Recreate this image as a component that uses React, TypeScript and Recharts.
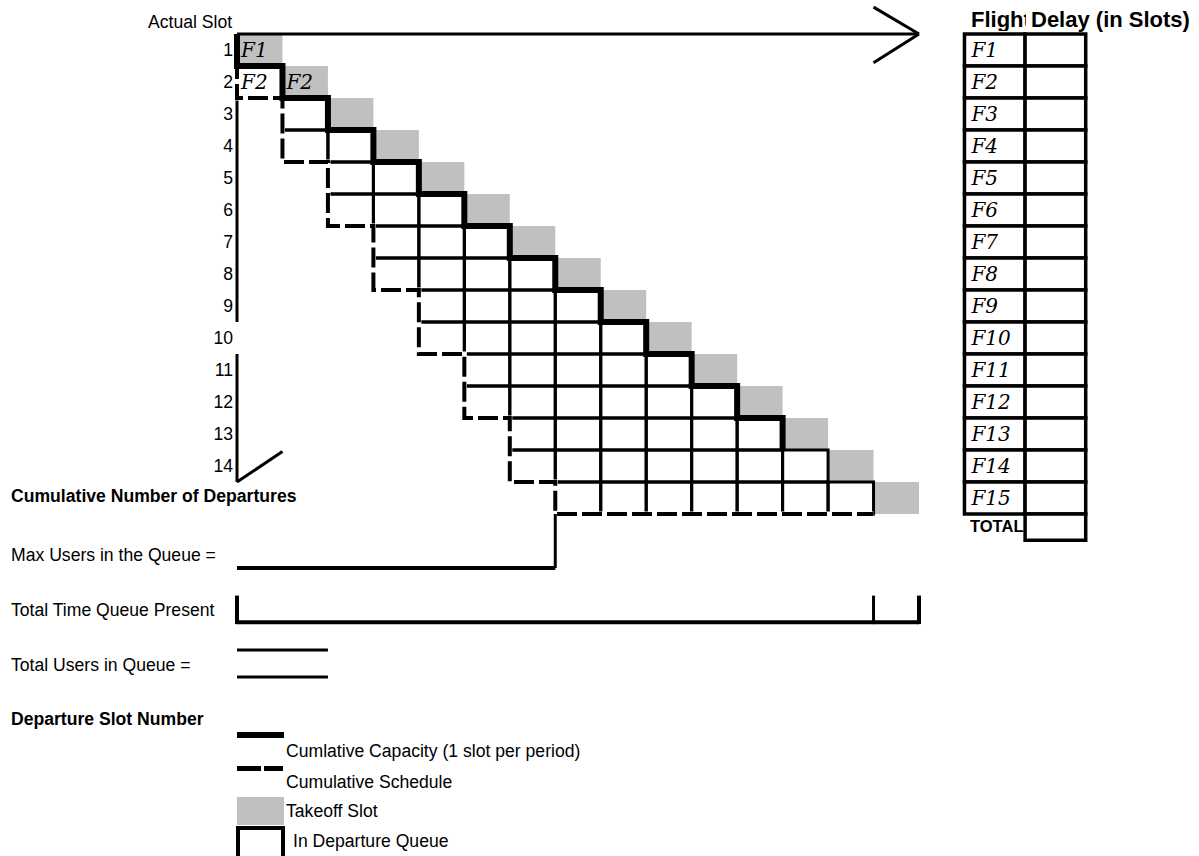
import React from "react";
import {
  ComposedChart,
  Line,
  XAxis,
  YAxis,
  ReferenceArea,
  ReferenceLine,
  Label,
} from "recharts";

// departure slots (x) and cumulative counts (y, drawn downwards)
const slots = [0, 1, 2, 3, 4, 5, 6, 7, 8, 9, 10, 11, 12, 13, 14];
const capacityCum = [1, 2, 3, 4, 5, 6, 7, 8, 9, 10, 11, 12, 13, 14, 15];
const scheduleSlots = [0, 1, 2, 3, 4, 5, 6, 7];
const scheduleCum = [2, 4, 6, 8, 10, 12, 14, 15];

const flights = [
  "F1", "F2", "F3", "F4", "F5", "F6", "F7", "F8",
  "F9", "F10", "F11", "F12", "F13", "F14", "F15",
];
const flightSchedSlot = [0, 0, 1, 1, 2, 2, 3, 3, 4, 4, 5, 5, 6, 6, 7];
const flightTakeoffSlot = [0, 1, 2, 3, 4, 5, 6, 7, 8, 9, 10, 11, 12, 13, 14];
const slotLabels = ["1", "2", "3", "4", "5", "6", "7", "8", "9", "10", "11", "12", "13", "14"];
const cellNotes = [
  { flight: 1, slot: 0, text: "F1" },
  { flight: 2, slot: 0, text: "F2" },
  { flight: 2, slot: 1, text: "F2" },
];
// the heavy capacity staircase stops after this slot
const thickCapacityUntil = 12;

const W = 1199;
const H = 856;
const SANS = "'Liberation Sans', Arial, sans-serif";
const SCRIPT = "'DejaVu Serif', serif";

const capacityData = [
  { slot: 0, cum: 0 },
  ...slots
    .slice(0, thickCapacityUntil + 1)
    .map((s) => ({ slot: s, cum: capacityCum[s] })),
];
const queueClears = capacityCum.indexOf(scheduleCum[scheduleCum.length - 1]);
const scheduleData = [
  { slot: 0, cum: 0 },
  ...scheduleSlots.map((s, i) => ({ slot: s, cum: scheduleCum[i] })),
  { slot: queueClears, cum: scheduleCum[scheduleCum.length - 1] },
];
const lastSched = scheduleSlots[scheduleSlots.length - 1];
const total = flights.length;

// table columns (in slot units, to the right of the plot)
const tabL = 16;
const tabM = 16 + 4 / 3;
const tabR = 16 + 8 / 3;

const range = (a: number, b: number) => {
  const out: number[] = [];
  for (let i = a; i < b; i++) out.push(i);
  return out;
};

function T({
  x,
  yc,
  size = 17.6,
  bold = false,
  children,
}: {
  x: number;
  yc: number;
  size?: number;
  bold?: boolean;
  children: React.ReactNode;
}) {
  return (
    <div
      style={{
        position: "absolute",
        left: x,
        top: yc - size * 0.49,
        fontSize: size,
        lineHeight: 1,
        fontFamily: SANS,
        fontWeight: bold ? 700 : 400,
        whiteSpace: "nowrap",
        color: "#000",
      }}
    >
      {children}
    </div>
  );
}

const labelStyle = {
  fontFamily: SCRIPT,
  fontStyle: "italic",
  fontSize: 20,
  fill: "#000",
};

export default function App() {
  return (
    <div
      style={{
        position: "absolute",
        left: 0,
        top: 0,
        width: W,
        height: H,
        overflow: "hidden",
        background: "#fff",
      }}
    >
      <ComposedChart
        width={W}
        height={H}
        margin={{ top: 34, right: 280, bottom: 342, left: 177 }}
      >
        <XAxis type="number" dataKey="slot" domain={[0, 15]} hide />
        <YAxis
          type="number"
          domain={[0, 15]}
          reversed
          width={60}
          ticks={slotLabels.map((_, i) => i + 0.5)}
          tickFormatter={(v: number) => slotLabels[Math.floor(v)]}
          axisLine={false}
          tickLine={false}
          tickSize={0}
          tickMargin={4}
          interval={0}
          tick={{ fill: "#000", fontSize: 17.6, fontFamily: SANS }}
        />

        {/* takeoff slots */}
        {flights.map((f, i) => (
          <ReferenceArea
            key={"t" + f}
            x1={flightTakeoffSlot[i]}
            x2={flightTakeoffSlot[i] + 1}
            y1={i}
            y2={i + 1}
            fill="#c0c0c0"
            fillOpacity={1}
            stroke="none"
            ifOverflow="visible"
          />
        ))}

        {/* slots spent in the departure queue */}
        {flights.flatMap((f, i) =>
          range(flightSchedSlot[i], flightTakeoffSlot[i]).map((c) => (
            <ReferenceArea
              key={"q" + f + "-" + c}
              x1={c}
              x2={c + 1}
              y1={i}
              y2={i + 1}
              fill="none"
              fillOpacity={0}
              stroke="#000"
              strokeWidth={3}
              ifOverflow="visible"
            />
          ))
        )}

        {cellNotes.map((n) => (
          <ReferenceArea
            key={"n" + n.flight + "-" + n.slot}
            x1={n.slot}
            x2={n.slot + 1}
            y1={n.flight - 1}
            y2={n.flight}
            fill="none"
            fillOpacity={0}
            stroke="none"
            ifOverflow="visible"
          >
            <Label value={n.text} position="insideLeft" offset={4} {...labelStyle} />
          </ReferenceArea>
        ))}

        {/* time axis with arrow */}
        <ReferenceLine y={0} stroke="#000" strokeWidth={3} ifOverflow="visible" />
        <ReferenceLine
          segment={[{ x: 14, y: -0.84 }, { x: 15, y: 0 }]}
          stroke="#000"
          strokeWidth={3}
          ifOverflow="visible"
        />
        <ReferenceLine
          segment={[{ x: 15, y: 0 }, { x: 14, y: 0.9 }]}
          stroke="#000"
          strokeWidth={3}
          ifOverflow="visible"
        />

        {/* broken cumulative axis */}
        <ReferenceLine segment={[{ x: 0, y: 2 }, { x: 0, y: 9 }]} stroke="#000" strokeWidth={3} ifOverflow="visible" />
        <ReferenceLine segment={[{ x: 0, y: 10 }, { x: 0, y: 14 }]} stroke="#000" strokeWidth={3} ifOverflow="visible" />
        <ReferenceLine segment={[{ x: 0, y: 14 }, { x: 1, y: 13.05 }]} stroke="#000" strokeWidth={3} ifOverflow="visible" />

        {/* cumulative schedule: white under-stroke hides grid in the dash gaps */}
        <Line
          data={scheduleData}
          dataKey="cum"
          type="stepAfter"
          stroke="#fff"
          strokeWidth={5}
          dot={false}
          activeDot={false}
          isAnimationActive={false}
        />
        <Line
          data={scheduleData}
          dataKey="cum"
          type="stepAfter"
          stroke="#000"
          strokeWidth={4}
          strokeDasharray="20 5"
          dot={false}
          activeDot={false}
          isAnimationActive={false}
        />
        {/* cumulative capacity */}
        <Line
          data={capacityData}
          dataKey="cum"
          type="stepAfter"
          stroke="#000"
          strokeWidth={6}
          strokeLinejoin="miter"
          dot={false}
          activeDot={false}
          isAnimationActive={false}
        />

        {/* max users in queue */}
        <ReferenceLine segment={[{ x: lastSched, y: total }, { x: lastSched, y: 16.69 }]} stroke="#000" strokeWidth={3} ifOverflow="visible" />
        <ReferenceLine segment={[{ x: 0, y: 16.69 }, { x: lastSched, y: 16.69 }]} stroke="#000" strokeWidth={4} ifOverflow="visible" />

        {/* total time queue present */}
        <ReferenceLine segment={[{ x: 0, y: 18.38 }, { x: 15, y: 18.38 }]} stroke="#000" strokeWidth={4} ifOverflow="visible" />
        <ReferenceLine segment={[{ x: 0, y: 17.55 }, { x: 0, y: 18.44 }]} stroke="#000" strokeWidth={4} ifOverflow="visible" />
        <ReferenceLine segment={[{ x: queueClears, y: 17.55 }, { x: queueClears, y: 18.44 }]} stroke="#000" strokeWidth={3} ifOverflow="visible" />
        <ReferenceLine segment={[{ x: 15, y: 17.55 }, { x: 15, y: 18.44 }]} stroke="#000" strokeWidth={4} ifOverflow="visible" />

        {/* total users in queue */}
        <ReferenceLine segment={[{ x: 0, y: 19.25 }, { x: 2, y: 19.25 }]} stroke="#000" strokeWidth={3} ifOverflow="visible" />
        <ReferenceLine segment={[{ x: 0, y: 20.09 }, { x: 2, y: 20.09 }]} stroke="#000" strokeWidth={3} ifOverflow="visible" />

        {/* flight delay table */}
        {flights.map((f, i) => (
          <ReferenceArea
            key={"tf" + f}
            x1={tabL}
            x2={tabM}
            y1={i}
            y2={i + 1}
            fill="#fff"
            fillOpacity={1}
            stroke="#000"
            strokeWidth={3.5}
            ifOverflow="visible"
          >
            <Label value={f} position="insideLeft" offset={7} {...labelStyle} />
          </ReferenceArea>
        ))}
        {flights.map((f, i) => (
          <ReferenceArea
            key={"td" + f}
            x1={tabM}
            x2={tabR}
            y1={i}
            y2={i + 1}
            fill="#fff"
            fillOpacity={1}
            stroke="#000"
            strokeWidth={3.5}
            ifOverflow="visible"
          />
        ))}
        <ReferenceArea
          x1={tabM}
          x2={tabR}
          y1={total}
          y2={total + 0.82}
          fill="#fff"
          fillOpacity={1}
          stroke="#000"
          strokeWidth={3.5}
          ifOverflow="visible"
        />
      </ComposedChart>

      <T x={148} yc={22.5}>Actual Slot</T>
      <div
        style={{
          position: "absolute",
          left: 971,
          top: 20 - 22 * 0.49,
          width: 55,
          overflow: "hidden",
          fontSize: 22,
          lineHeight: 1,
          fontFamily: SANS,
          fontWeight: 700,
          whiteSpace: "nowrap",
        }}
      >
        Flight
      </div>
      <T x={1031} yc={20} size={22} bold>
        Delay (in Slots)
      </T>
      <T x={970} yc={526.5} size={16.5} bold>
        TOTAL
      </T>

      <T x={11} yc={497} bold>Cumulative Number of Departures</T>
      <T x={11} yc={555.5}>Max Users in the Queue =</T>
      <T x={11} yc={610.5}>Total Time Queue Present</T>
      <T x={11} yc={665.5}>Total Users in Queue =</T>
      <T x={11} yc={719.5} bold>Departure Slot Number</T>

      {/* legend */}
      <div style={{ position: "absolute", left: 237, top: 732, width: 47, height: 6, background: "#000" }} />
      <T x={286} yc={751.5}>Cumlative Capacity (1 slot per period)</T>
      <div style={{ position: "absolute", left: 237, top: 766, width: 24, height: 5, background: "#000" }} />
      <div style={{ position: "absolute", left: 264, top: 766, width: 19, height: 5, background: "#000" }} />
      <T x={286} yc={783}>Cumulative Schedule</T>
      <div style={{ position: "absolute", left: 237, top: 797, width: 47, height: 28, background: "#c0c0c0" }} />
      <T x={286} yc={811.5}>Takeoff Slot</T>
      <div
        style={{
          position: "absolute",
          left: 236,
          top: 826,
          width: 49,
          height: 44,
          border: "4px solid #000",
          boxSizing: "border-box",
        }}
      />
      <T x={293} yc={841.5}>In Departure Queue</T>
    </div>
  );
}
